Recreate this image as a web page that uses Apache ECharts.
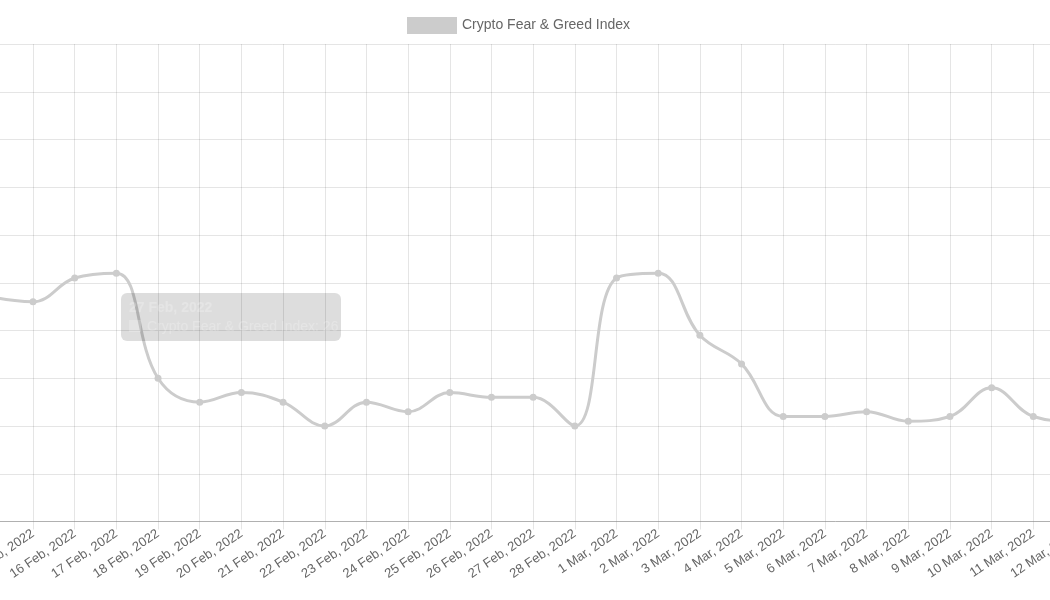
<!DOCTYPE html>
<html>
<head>
<meta charset="utf-8">
<script src="https://cdn.jsdelivr.net/npm/echarts@6/dist/echarts.min.js"></script>
<style>
html,body{margin:0;padding:0;background:#fff;overflow:hidden;width:1050px;height:600px;}
#wrap{position:relative;width:1050px;height:600px;overflow:hidden;}
#chart{position:absolute;left:-100px;top:0;width:1250px;height:600px;}
</style>
</head>
<body>
<div id="wrap"><div id="chart"></div></div>
<script>
const categories = ["14 Feb, 2022","15 Feb, 2022","16 Feb, 2022","17 Feb, 2022","18 Feb, 2022","19 Feb, 2022","20 Feb, 2022","21 Feb, 2022","22 Feb, 2022","23 Feb, 2022","24 Feb, 2022","25 Feb, 2022","26 Feb, 2022","27 Feb, 2022","28 Feb, 2022","1 Mar, 2022","2 Mar, 2022","3 Mar, 2022","4 Mar, 2022","5 Mar, 2022","6 Mar, 2022","7 Mar, 2022","8 Mar, 2022","9 Mar, 2022","10 Mar, 2022","11 Mar, 2022","12 Mar, 2022","13 Mar, 2022"];
const fearGreed = [47,46,51,52,30,25,27,25,20,25,23,27,26,26,20,51,52,39,33,22,22,23,21,22,28,22,21,22];
const seriesName = "Crypto Fear & Greed Index";
const yMin = 0, yMax = 100, yStep = 10;

const chart = echarts.init(document.getElementById('chart'));
const gridColor = 'rgba(0,0,0,0.1)';
const font = 'Liberation Sans, Arial, sans-serif';
chart.setOption({
  animation: false,
  textStyle: {fontFamily: font},
  legend: {
    top: 12, left: 502,
    itemWidth: 50, itemHeight: 17, itemGap: 6,
    icon: 'rect',
    textStyle: {color: '#666', fontSize: 14, fontFamily: font},
    data: [{name: seriesName, itemStyle: {color: '#cccccc'}}]
  },
  grid: {left: 91.33, right: 33.33, top: 44, bottom: 78.5, containLabel: false},
  tooltip: {
    trigger: 'item',
    alwaysShowContent: true,
    triggerOn: 'none',
    position: [221, 293],
    backgroundColor: 'rgba(0,0,0,0.135)',
    borderWidth: 0,
    padding: [5, 8],
    extraCssText: 'border-radius:6px;box-shadow:none;width:204px;height:38px;',
    formatter: function (p) {
      return '<div style="font-weight:bold;font-size:14px;color:rgba(255,255,255,0.22);line-height:18px;font-family:Liberation Sans,Arial">' + p.name + '</div>' +
        '<div style="font-size:14px;color:rgba(255,255,255,0.22);line-height:20px;font-family:Liberation Sans,Arial">' +
        '<span style="display:inline-block;width:12px;height:12px;background:rgba(255,255,255,0.2);margin-right:6px;vertical-align:-1px"></span>' +
        p.seriesName + ': ' + p.value + '</div>';
    }
  },
  xAxis: {
    type: 'category',
    data: categories,
    boundaryGap: false,
    axisLine: {lineStyle: {color: '#b0b0b0', width: 1}},
    axisTick: {show: true, length: 8, interval: 0, lineStyle: {color: gridColor}},
    splitLine: {show: true, interval: 0, lineStyle: {color: gridColor, width: 1}},
    axisLabel: {interval: 0, rotate: 34, color: '#666', fontSize: 13, margin: 11, fontFamily: font}
  },
  yAxis: {
    type: 'value',
    min: yMin, max: yMax, interval: yStep,
    axisLine: {show: false},
    axisTick: {show: false},
    axisLabel: {show: false},
    splitLine: {show: true, lineStyle: {color: gridColor, width: 1}}
  },
  series: [{
    name: seriesName,
    type: 'line',
    data: fearGreed,
    smooth: 0.4,
    symbol: 'circle',
    symbolSize: 7,
    showAllSymbol: true,
    lineStyle: {color: '#cccccc', width: 3},
    itemStyle: {color: '#cccccc'},
    emphasis: {disabled: true}
  }]
});
chart.dispatchAction({type: 'showTip', seriesIndex: 0, dataIndex: 13});
</script>
</body>
</html>
